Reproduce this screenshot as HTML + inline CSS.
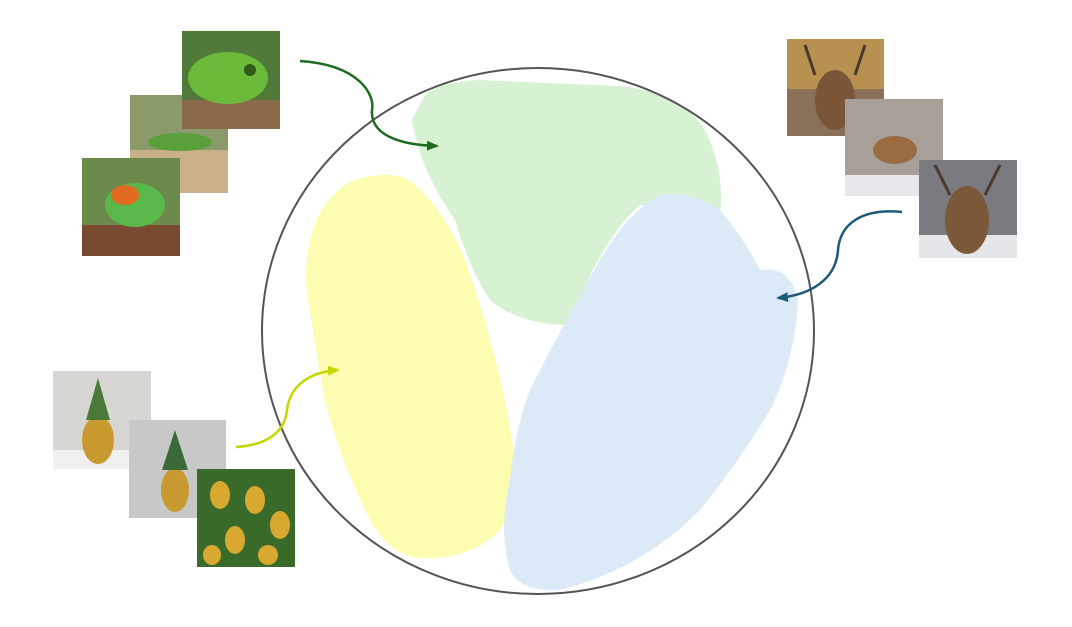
<!DOCTYPE html>
<html><head><meta charset="utf-8"><style>
html,body{margin:0;padding:0;background:#fff;width:1072px;height:627px;overflow:hidden;font-family:"Liberation Sans",sans-serif}
</style></head><body>
<svg width="1072" height="627" viewBox="0 0 1072 627" xmlns="http://www.w3.org/2000/svg">
<defs>
<marker id="ag" markerUnits="userSpaceOnUse" markerWidth="12" markerHeight="10" refX="10" refY="5" orient="auto"><path d="M0,0 L12,5 L0,10 z" fill="#1e6b1e"/></marker>
<marker id="ab" markerUnits="userSpaceOnUse" markerWidth="12" markerHeight="10" refX="10" refY="5" orient="auto"><path d="M0,0 L12,5 L0,10 z" fill="#1b5a7a"/></marker>
<marker id="ay" markerUnits="userSpaceOnUse" markerWidth="12" markerHeight="10" refX="10" refY="5" orient="auto"><path d="M0,0 L12,5 L0,10 z" fill="#c4d600"/></marker>
</defs>
<g><path d="M425,95 Q440,82 480,80 L620,86 Q680,92 705,130 Q725,170 720,215 L640,205 Q600,240 570,325 Q520,325 490,300 Q470,270 455,220 Q420,170 412,120 Z" fill="#d7f2d3"/></g>
<g><path d="M350,182 Q380,170 405,178 Q440,200 465,260 Q500,360 512,440 Q520,500 500,530 Q470,560 420,558 Q390,555 370,520 Q340,460 325,400 Q310,320 306,280 Q305,210 350,182 Z" fill="#fdfdb1"/></g>
<g><path d="M660,195 Q690,190 720,210 Q745,240 760,270 Q790,265 798,300 Q795,360 770,410 Q740,460 700,510 Q640,570 560,590 Q520,592 510,570 Q498,530 510,480 Q515,430 530,390 Q560,330 600,260 Q630,210 660,195 Z" fill="#dce9f6"/></g>
<ellipse cx="538" cy="331" rx="276" ry="263" fill="none" stroke="#555" stroke-width="2"/>
<path d="M300,61 C360,65 375,95 372,110 C370,135 400,145 437,146" fill="none" stroke="#1e6b1e" stroke-width="2.5" marker-end="url(#ag)"/>
<path d="M902,212 C860,208 840,225 838,250 C836,280 810,295 778,298" fill="none" stroke="#1b5a7a" stroke-width="2.5" marker-end="url(#ab)"/>
<path d="M236,447 C270,445 285,430 287,410 C290,385 310,372 338,370" fill="none" stroke="#c4d600" stroke-width="2.5" marker-end="url(#ay)"/>
<g>
<g><rect x="130" y="95" width="98" height="98" fill="#8a9a6a"/><rect x="130" y="150" width="98" height="43" fill="#c9b08a"/><ellipse cx="180" cy="142" rx="32" ry="9" fill="#5aa03a"/></g>
<g><rect x="182" y="31" width="98" height="98" fill="#4f7a3a"/><rect x="182" y="100" width="98" height="29" fill="#8a6a4a"/><ellipse cx="228" cy="78" rx="40" ry="26" fill="#6cba3a"/><circle cx="250" cy="70" r="6" fill="#2e5a1a"/></g>
<g><rect x="82" y="158" width="98" height="98" fill="#6c8a4a"/><rect x="82" y="225" width="98" height="31" fill="#7a4a30"/><ellipse cx="135" cy="205" rx="30" ry="22" fill="#5ab84a"/><ellipse cx="125" cy="195" rx="14" ry="10" fill="#e06a20"/></g>
</g>
<g>
<g><rect x="787" y="39" width="97" height="97" fill="#8a7058"/><rect x="787" y="39" width="97" height="50" fill="#b89050"/><ellipse cx="835" cy="100" rx="20" ry="30" fill="#7a5538"/><path d="M815,75 L805,45 M855,75 L865,45" stroke="#4a3a2a" stroke-width="3"/></g>
<g><rect x="845" y="99" width="98" height="97" fill="#a8a098"/><rect x="845" y="175" width="98" height="21" fill="#e8e8ec"/><ellipse cx="895" cy="150" rx="22" ry="14" fill="#9a6a40"/></g>
<g><rect x="919" y="160" width="98" height="98" fill="#7a7a80"/><rect x="919" y="235" width="98" height="23" fill="#e4e6ea"/><ellipse cx="967" cy="220" rx="22" ry="34" fill="#7a5838"/><path d="M950,195 L935,165 M985,195 L1000,165" stroke="#4a3a2a" stroke-width="3"/></g>
</g>
<g>
<g><rect x="53" y="371" width="98" height="98" fill="#d8d6d2"/><rect x="53" y="450" width="98" height="19" fill="#f0f0f0"/><ellipse cx="98" cy="440" rx="16" ry="24" fill="#c89a30"/><path d="M98,378 L86,420 L110,420 Z" fill="#4a7a3a"/></g>
<g><rect x="129" y="420" width="97" height="98" fill="#c8c8c8"/><ellipse cx="175" cy="490" rx="14" ry="22" fill="#c89a30"/><path d="M175,430 L162,470 L188,470 Z" fill="#3a6a3a"/></g>
<g><rect x="197" y="469" width="98" height="98" fill="#3a6a2a"/><ellipse cx="220" cy="495" rx="10" ry="14" fill="#d8a830"/><ellipse cx="255" cy="500" rx="10" ry="14" fill="#d8a830"/><ellipse cx="280" cy="525" rx="10" ry="14" fill="#d8a830"/><ellipse cx="235" cy="540" rx="10" ry="14" fill="#d8a830"/><ellipse cx="212" cy="555" rx="9" ry="10" fill="#d8a830"/><ellipse cx="268" cy="555" rx="10" ry="10" fill="#d8a830"/></g>
</g>
</svg>
</body></html>
